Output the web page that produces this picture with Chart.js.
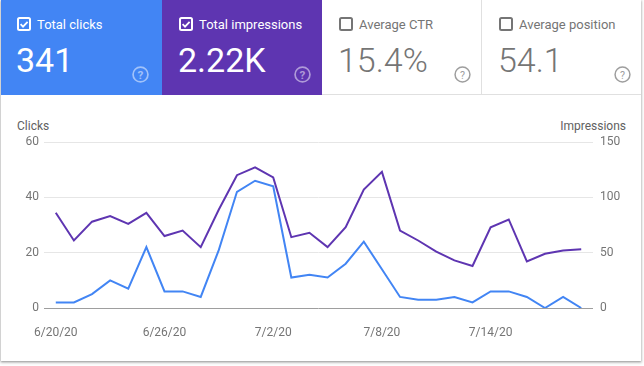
<!DOCTYPE html>
<html>
<head>
<meta charset="utf-8">
<script src="https://cdn.jsdelivr.net/npm/chart.js@4"></script>
<style>
  body { margin: 0; background: #fff; font-family: Roboto, Arial, sans-serif; }
  #painel {
    position: absolute; left: 1px; top: 0; width: 640px; height: 361px;
    background: #fff; overflow: hidden;
    box-shadow: 0 1px 2px rgba(0,0,0,.3), 0 1px 3px 1px rgba(0,0,0,.15);
  }
  .card { position: absolute; top: 0; height: 95px; box-sizing: border-box; }
  .card .chk { position: absolute; left: 17px; top: 17px; width: 14px; height: 14px; }
  .card .titulo { position: absolute; left: 37px; top: 18px; font-size: 13px; line-height: 13px; white-space: nowrap; }
  .card .valor { position: absolute; left: 16px; top: 43px; font-size: 34px; line-height: 34px; white-space: nowrap; }
  .card .ajuda { position: absolute; left: 132px; top: 66px; width: 17px; height: 17px; }
  .ativo { color: #fff; }
  .inativo { color: #757575; border-bottom: 1px solid #e0e0e0; }
  .inativo .valor { font-weight: 300; }
  .eixo { position: absolute; top: 120px; font-size: 12px; line-height: 12px; color: #616161; }
  #grafico { position: absolute; left: 0; top: 96px; }
</style>
</head>
<body>
<div id="painel">
  <div class="card ativo" style="left:-1px;width:162px;background:#4285f4">
    <svg class="chk" viewBox="0 0 14 14"><rect x="1" y="1" width="12" height="12" rx="1.5" fill="none" stroke="#fff" stroke-width="2"/><path d="M3.6 7.2 L6 9.6 L10.6 4.8" fill="none" stroke="#fff" stroke-width="1.8"/></svg>
    <div class="titulo">Total clicks</div>
    <div class="valor">341</div>
    <svg class="ajuda" viewBox="0 0 16 16"><circle cx="8" cy="8" r="7" fill="none" stroke="rgba(255,255,255,.5)" stroke-width="1.6"/><text x="8" y="12" text-anchor="middle" font-size="11" font-weight="bold" fill="rgba(255,255,255,.5)" font-family="Roboto">?</text></svg>
  </div>
  <div class="card ativo" style="left:161px;width:160px;background:#5e35b1">
    <svg class="chk" viewBox="0 0 14 14"><rect x="1" y="1" width="12" height="12" rx="1.5" fill="none" stroke="#fff" stroke-width="2"/><path d="M3.6 7.2 L6 9.6 L10.6 4.8" fill="none" stroke="#fff" stroke-width="1.8"/></svg>
    <div class="titulo">Total impressions</div>
    <div class="valor">2.22K</div>
    <svg class="ajuda" viewBox="0 0 16 16"><circle cx="8" cy="8" r="7" fill="none" stroke="rgba(255,255,255,.5)" stroke-width="1.6"/><text x="8" y="12" text-anchor="middle" font-size="11" font-weight="bold" fill="rgba(255,255,255,.5)" font-family="Roboto">?</text></svg>
  </div>
  <div class="card inativo" style="left:321px;width:160px;border-right:1px solid #e0e0e0">
    <svg class="chk" viewBox="0 0 14 14"><rect x="1" y="1" width="12" height="12" rx="1.5" fill="none" stroke="#757575" stroke-width="2"/></svg>
    <div class="titulo">Average CTR</div>
    <div class="valor">15.4%</div>
    <svg class="ajuda" viewBox="0 0 16 16"><circle cx="8" cy="8" r="7" fill="none" stroke="#9e9e9e" stroke-width="1.4"/><text x="8" y="12" text-anchor="middle" font-size="10" fill="#9e9e9e" font-family="Roboto">?</text></svg>
  </div>
  <div class="card inativo" style="left:481px;width:160px">
    <svg class="chk" viewBox="0 0 14 14"><rect x="1" y="1" width="12" height="12" rx="1.5" fill="none" stroke="#757575" stroke-width="2"/></svg>
    <div class="titulo">Average position</div>
    <div class="valor">54.1</div>
    <svg class="ajuda" viewBox="0 0 16 16"><circle cx="8" cy="8" r="7" fill="none" stroke="#9e9e9e" stroke-width="1.4"/><text x="8" y="12" text-anchor="middle" font-size="10" fill="#9e9e9e" font-family="Roboto">?</text></svg>
  </div>

  <div class="eixo" style="left:16px">Clicks</div>
  <div class="eixo" style="right:15px">Impressions</div>
  <canvas id="grafico" width="640" height="262"></canvas>
</div>

<script>
// dados (um ponto por dia)
const datas = ['6/20/20','6/21/20','6/22/20','6/23/20','6/24/20','6/25/20','6/26/20','6/27/20','6/28/20','6/29/20',
               '6/30/20','7/1/20','7/2/20','7/3/20','7/4/20','7/5/20','7/6/20','7/7/20','7/8/20','7/9/20',
               '7/10/20','7/11/20','7/12/20','7/13/20','7/14/20','7/15/20','7/16/20','7/17/20','7/18/20','7/19/20'];
const cliques = [2, 2, 5, 10, 7, 22, 6, 6, 4, 21, 42, 46, 44, 11, 12, 11, 16, 24, 14, 4, 3, 3, 4, 2, 6, 6, 4, 0, 4, 0];
const impressoes = [86, 61, 78, 83, 76, 86, 65, 70, 55, 89, 120, 127, 118, 64, 68, 55, 73, 107, 123, 70, 61, 51, 43, 38, 73, 80, 42, 49, 52, 53];
const ticksData = [0, 6, 12, 18, 24];
const ticksCliques = [0, 20, 40, 60];
const ticksImpressoes = [0, 50, 100, 150];

const corTexto = '#757575';
const fonte = { family: 'Roboto', size: 12 };

const ctx = document.getElementById('grafico').getContext('2d');

const grafico = new Chart(ctx, {
    type: 'line',
    data: {
        datasets: [
            {
                label: 'Impressions',
                data: impressoes.map((v, i) => ({ x: i, y: v })),
                borderColor: '#5e35b1',
                borderWidth: 2,
                yAxisID: 'yImp'
            },
            {
                label: 'Clicks',
                data: cliques.map((v, i) => ({ x: i, y: v })),
                borderColor: '#4285f4',
                borderWidth: 2,
                yAxisID: 'yCli'
            }
        ]
    },
    options: {
        responsive: false,
        animation: false,
        layout: { padding: { top: 46, left: 0, right: 0, bottom: 0 } },
        elements: { point: { radius: 0 }, line: { tension: 0 } },
        plugins: {
            legend: { display: false },
            tooltip: { enabled: false }
        },
        scales: {
            x: {
                type: 'linear',
                min: -0.65,
                max: 29.65,
                grid: { display: false, drawTicks: false },
                border: { display: false },
                afterBuildTicks: axis => { axis.ticks = ticksData.map(v => ({ value: v })); },
                afterFit: axis => { axis.height = 50; },
                ticks: {
                    padding: 18,
                    color: corTexto,
                    font: fonte,
                    maxRotation: 0,
                    callback: v => datas[v]
                }
            },
            yCli: {
                position: 'left',
                min: 0,
                max: 60,
                afterBuildTicks: axis => { axis.ticks = ticksCliques.map(v => ({ value: v })); },
                afterFit: axis => { axis.width = 43; },
                grid: {
                    drawTicks: false,
                    color: c => c.tick && c.tick.value === 0 ? '#9e9e9e' : '#e6e6e6'
                },
                border: { display: false },
                ticks: { padding: 5, color: corTexto, font: fonte }
            },
            yImp: {
                position: 'right',
                min: 0,
                max: 150,
                afterBuildTicks: axis => { axis.ticks = ticksImpressoes.map(v => ({ value: v })); },
                afterFit: axis => { axis.width = 48; },
                grid: { display: false, drawTicks: false },
                border: { display: false },
                ticks: { padding: 7, color: corTexto, font: fonte }
            }
        }
    }
});
</script>
</body>
</html>
